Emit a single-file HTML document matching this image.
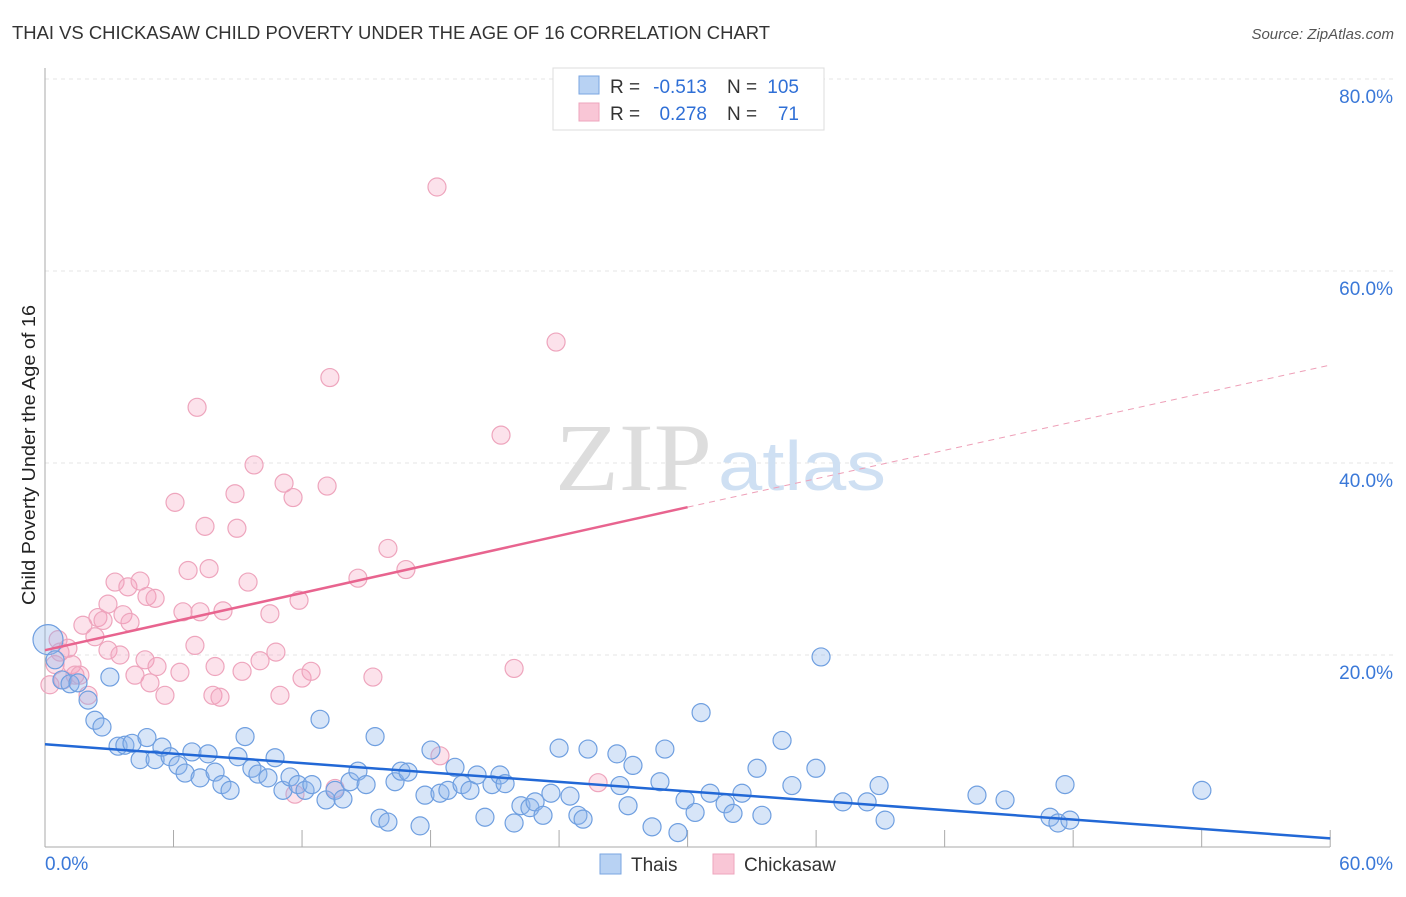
<!DOCTYPE html>
<html><head><meta charset="utf-8"><style>
body{margin:0;background:#fff;font-family:"Liberation Sans",sans-serif;}
svg text{font-family:"Liberation Sans",sans-serif;}
</style></head><body>
<svg id="chart" width="1406" height="892" xmlns="http://www.w3.org/2000/svg">
<text x="12" y="39" font-size="18" fill="#333" textLength="758" lengthAdjust="spacingAndGlyphs">THAI VS CHICKASAW CHILD POVERTY UNDER THE AGE OF 16 CORRELATION CHART</text>
<text x="1394" y="39" font-size="15" fill="#555" font-style="italic" text-anchor="end">Source: ZipAtlas.com</text>
<text x="35" y="455" font-size="18" fill="#222" text-anchor="middle" textLength="300" lengthAdjust="spacingAndGlyphs" transform="rotate(-90 35 455)">Child Poverty Under the Age of 16</text>
<g id="grid"></g>
<text x="555" y="490" font-size="96" fill="#ddd" style="font-family:'Liberation Serif',serif" textLength="157" lengthAdjust="spacingAndGlyphs">ZIP</text>
<text x="718" y="490" font-size="70" fill="#cfe0f3" textLength="168" lengthAdjust="spacingAndGlyphs">atlas</text>
<g id="pts"></g>
<g id="lines"></g>
<g>
<rect x="553" y="68" width="271" height="62" fill="#fff" stroke="#ddd"/>
<rect x="579" y="76" width="20" height="18" fill="#b8d2f3" stroke="#7aa6e0"/>
<rect x="579" y="103" width="20" height="18" fill="#f9c6d6" stroke="#eea5bd"/>
<text x="610" y="93" font-size="19" fill="#333">R =</text>
<text x="707" y="93" font-size="19" fill="#2f6fd6" text-anchor="end">-0.513</text>
<text x="727" y="93" font-size="19" fill="#333">N =</text>
<text x="799" y="93" font-size="19" fill="#2f6fd6" text-anchor="end">105</text>
<text x="610" y="120" font-size="19" fill="#333">R =</text>
<text x="707" y="120" font-size="19" fill="#2f6fd6" text-anchor="end">0.278</text>
<text x="727" y="120" font-size="19" fill="#333">N =</text>
<text x="799" y="120" font-size="19" fill="#2f6fd6" text-anchor="end">71</text>
</g>
<g>
<rect x="600" y="854" width="21" height="20" fill="#b8d2f3" stroke="#7aa6e0"/>
<text x="631" y="871" font-size="19" fill="#333">Thais</text>
<rect x="713" y="854" width="21" height="20" fill="#f9c6d6" stroke="#eea5bd"/>
<text x="744" y="871" font-size="19" fill="#333">Chickasaw</text>
</g>
</svg>
<script>
const yTicks=[20,40,60,80];
const xTickLabels=["0.0%","60.0%"];
const blueX=[0.14,0.47,0.79,1.17,1.54,2.01,2.33,2.66,3.03,3.41,3.73,4.06,4.44,4.76,5.14,5.46,5.84,6.21,6.54,6.86,7.24,7.61,7.94,8.26,8.64,9.01,9.34,9.66,9.94,10.41,10.74,11.11,11.44,11.81,12.14,12.46,12.84,13.12,13.54,13.91,14.24,14.61,14.99,15.41,15.64,16.01,16.34,16.62,16.95,17.51,17.74,18.02,18.44,18.81,19.14,19.47,19.84,20.17,20.54,20.87,21.24,21.48,21.9,22.22,22.64,22.88,23.25,23.62,24.0,24.51,24.88,25.12,25.35,26.7,26.84,27.22,27.45,28.34,28.71,28.94,29.55,29.88,30.35,30.63,31.05,31.75,32.12,32.54,33.47,33.24,34.41,34.87,35.99,36.23,37.25,38.38,39.22,38.94,43.51,44.82,46.92,47.29,47.62,47.85,54.01];
const blueY=[21.6,19.5,17.4,17.0,17.1,15.3,13.2,12.5,17.7,10.5,10.6,10.8,9.1,11.4,9.1,10.4,9.4,8.5,7.7,9.9,7.2,9.7,7.8,6.5,5.9,9.4,11.5,8.2,7.6,7.2,9.3,5.9,7.3,6.5,5.9,6.5,13.3,4.9,5.9,5.0,6.8,7.9,6.5,11.5,3.0,2.6,6.8,7.9,7.8,2.2,5.4,10.1,5.6,5.9,8.3,6.5,5.9,7.5,3.1,6.5,7.5,6.6,2.5,4.3,4.1,4.7,3.3,5.6,10.3,5.3,3.3,2.9,10.2,9.7,6.4,4.3,8.5,2.1,6.8,10.2,1.5,4.9,3.6,14.0,5.6,4.5,3.5,5.6,3.3,8.2,11.1,6.4,8.2,19.8,4.7,4.7,2.8,6.4,5.4,4.9,3.1,2.5,6.5,2.8,5.9];
const pinkX=[0.23,0.47,0.61,0.70,0.84,1.07,1.26,1.40,1.63,1.77,2.01,2.33,2.47,2.71,2.94,2.94,3.27,3.50,3.64,3.87,3.97,4.20,4.44,4.67,4.76,4.90,5.14,5.23,5.60,6.07,6.30,6.44,6.68,7.00,7.10,7.24,7.47,7.66,7.84,7.94,8.17,8.31,8.87,8.96,9.20,9.48,9.76,10.04,10.5,10.78,10.97,11.16,11.58,11.86,12.0,12.42,13.3,13.17,13.54,14.61,15.31,16.01,16.85,18.3,18.44,21.29,21.9,23.86,25.82,11.67];
const pinkY=[16.9,19.0,21.6,20.3,17.4,20.7,19.0,17.9,17.9,23.1,15.8,21.9,23.9,23.6,25.3,20.5,27.6,20.0,24.2,27.1,23.4,17.9,27.7,19.5,26.1,17.1,25.9,18.8,15.8,35.9,18.2,24.5,28.8,21.0,45.8,24.5,33.4,29.0,15.8,18.8,15.6,24.6,36.8,33.2,18.3,27.6,39.8,19.4,24.3,20.3,15.8,37.9,36.4,25.7,17.6,18.3,48.9,37.6,6.1,28.0,17.7,31.1,28.9,68.75,9.5,42.9,18.6,52.6,6.7,5.5];
const blueTrend=[10.7,0.9];
const pinkTrend=[20.5,35.4,50.2];
const X0=45,PX=21.42,Y0=847,PY=9.6;
const xs=v=>X0+v*PX, ys=v=>Y0-v*PY;
const NS="http://www.w3.org/2000/svg";
function mk(t,a,p){const e=document.createElementNS(NS,t);for(const k in a)e.setAttribute(k,a[k]);p.appendChild(e);return e;}
const grid=document.getElementById('grid');
for(const t of yTicks){
 const l=mk('line',{x1:45,x2:1394,y1:ys(t),y2:ys(t),stroke:'#e4e4e4','stroke-dasharray':'4 4'},grid);
 
 
 const tx=mk('text',{x:1393,y:ys(t)+24,'font-size':19,fill:'#3a78d8','text-anchor':'end'},grid);
 tx.textContent=t.toFixed(1)+'%';
 
 
}
const ax=mk('line',{x1:45,x2:45,y1:68,y2:847,stroke:'#aaa'},grid);


const bx=mk('line',{x1:45,x2:1330,y1:847,y2:847,stroke:'#aaa'},grid);


for(let i=1;i<=10;i++){const l=mk('line',{x1:xs(i*6),x2:xs(i*6),y1:830,y2:847,stroke:'#aaa'},grid);
 
 }
const t0=mk('text',{x:45,y:870,'font-size':19,fill:'#3a78d8'},grid);t0.textContent=xTickLabels[0];


const t1=mk('text',{x:1393,y:870,'font-size':19,fill:'#3a78d8','text-anchor':'end'},grid);t1.textContent=xTickLabels[1];


const pts=document.getElementById('pts');
pinkX.forEach((x,i)=>{const c=mk('circle',{cx:xs(x),cy:ys(pinkY[i]),r:9,fill:'rgba(244,160,188,0.3)',stroke:'#eea5bd','stroke-width':1.2},pts);
 
 });
blueX.forEach((x,i)=>{const c=mk('circle',{cx:xs(x),cy:ys(blueY[i]),r:i==0?15:9,fill:'rgba(140,180,235,0.35)',stroke:'#6f9fe0','stroke-width':1.2},pts);
 
 });
const ln=document.getElementById('lines');
const b=mk('line',{x1:xs(0),y1:ys(blueTrend[0]),x2:xs(60),y2:ys(blueTrend[1]),stroke:'#2268d6','stroke-width':2.5},ln);


const p1=mk('line',{x1:xs(0),y1:ys(pinkTrend[0]),x2:xs(30),y2:ys(pinkTrend[1]),stroke:'#e8648f','stroke-width':2.5},ln);


const p2=mk('line',{x1:xs(30),y1:ys(pinkTrend[1]),x2:xs(60),y2:ys(pinkTrend[2]),stroke:'#eea0b8','stroke-width':1,'stroke-dasharray':'6 5'},ln);


</script>
</body></html>
